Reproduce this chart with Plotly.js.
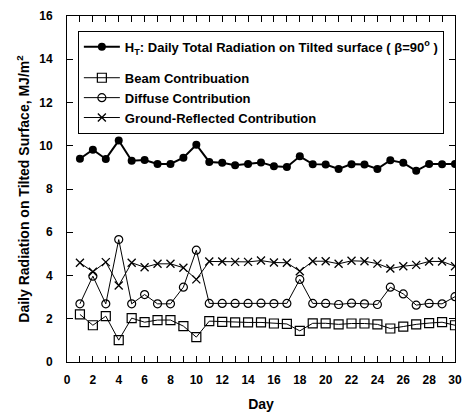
<!DOCTYPE html>
<html>
<head>
<meta charset="utf-8">
<script src="https://cdn.plot.ly/plotly-3.0.1.min.js"></script>
<style>html,body{margin:0;padding:0;background:#fff}#chart{width:462px;height:412px}</style>
</head>
<body>
<div id="chart"></div>
<script>
var days = [1,2,3,4,5,6,7,8,9,10,11,12,13,14,15,16,17,18,19,20,21,22,23,24,25,26,27,28,29,30];
var totalHT = [9.40,9.82,9.39,10.24,9.31,9.34,9.16,9.16,9.45,10.05,9.25,9.21,9.10,9.16,9.23,9.05,9.02,9.51,9.15,9.13,8.93,9.15,9.13,8.93,9.33,9.21,8.84,9.16,9.15,9.16];
var beam = [2.20,1.70,2.12,1.01,2.03,1.84,1.94,1.94,1.66,1.15,1.89,1.86,1.83,1.83,1.83,1.78,1.76,1.44,1.79,1.79,1.74,1.78,1.78,1.74,1.55,1.64,1.74,1.80,1.84,1.70];
var diffuse = [2.69,3.97,2.69,5.66,2.69,3.12,2.69,2.69,3.46,5.17,2.71,2.71,2.71,2.71,2.72,2.70,2.71,3.82,2.71,2.71,2.66,2.72,2.69,2.66,3.46,3.15,2.63,2.71,2.69,3.02];
var ground = [4.59,4.17,4.62,3.54,4.59,4.38,4.54,4.54,4.36,3.82,4.65,4.65,4.63,4.63,4.69,4.60,4.59,4.20,4.66,4.66,4.54,4.68,4.66,4.55,4.32,4.43,4.49,4.65,4.65,4.43];
var seriesNames = [
  "H<sub>T</sub>: Daily Total Radiation on Tilted surface ( <b>β</b>=90<sup>o</sup> )",
  "Beam Contribuation",
  "Diffuse Contribution",
  "Ground-Reflected Contribution"
];
var xTickVals = [0].concat(days);
var xTickText = xTickVals.map(function(d){return d%2===0?String(d):"";});
var yTickVals = [0,2,4,6,8,10,12,14,16];

var traces = [
  {x: days, y: totalHT, name: seriesNames[0], mode: "lines+markers", legendgroup: "total",
   line: {color: "#000", width: 2}, marker: {symbol: "circle", size: 8, color: "#000"}},
  {x: days, y: beam, name: seriesNames[1], mode: "lines+markers", legendgroup: "parts",
   line: {color: "#000", width: 1}, marker: {symbol: "square-open", size: 9, color: "#000", line: {width: 1.2}}},
  {x: days, y: diffuse, name: seriesNames[2], mode: "lines+markers", legendgroup: "parts",
   line: {color: "#000", width: 1}, marker: {symbol: "circle-open", size: 8, color: "#000", line: {width: 1.2}}},
  {x: days, y: ground, name: seriesNames[3], mode: "lines+markers", legendgroup: "parts",
   line: {color: "#000", width: 1}, marker: {symbol: "x-thin-open", size: 8, color: "#000", line: {width: 1.3}}}
];

var fontFam = "Liberation Sans, Arial, sans-serif";
var layout = {
  width: 462, height: 412,
  margin: {l: 67, r: 7, t: 16, b: 50},
  paper_bgcolor: "#fff", plot_bgcolor: "#fff",
  font: {family: fontFam, color: "#000", size: 12},
  showlegend: true,
  legend: {x: 0.028, y: 0.957, xanchor: "left", yanchor: "top",
           bordercolor: "#000", borderwidth: 1, bgcolor: "#fff",
           font: {family: fontFam, size: 13, weight: "bold", color: "#000"},
           itemwidth: 36, tracegroupgap: 11, traceorder: "grouped"},
  xaxis: {range: [0, 30], showline: true, mirror: "ticks", linecolor: "#000", linewidth: 1,
          ticks: "inside", ticklen: 6, tickcolor: "#000",
          tickmode: "array", tickvals: xTickVals, ticktext: xTickText,
          showgrid: false, zeroline: false, ticklabelstandoff: 7,
          tickfont: {family: fontFam, size: 12, weight: "bold"},
          title: {text: "<b>Day</b>", font: {family: fontFam, size: 14}, standoff: 16}},
  yaxis: {range: [0, 16], showline: true, mirror: "ticks", linecolor: "#000", linewidth: 1,
          ticks: "inside", ticklen: 6, tickcolor: "#000", tickmode: "array", tickvals: yTickVals,
          showgrid: false, zeroline: false, ticklabelstandoff: 11, ticksuffix: "\u2002",
          tickfont: {family: fontFam, size: 12, weight: "bold"},
          title: {text: "<b>Daily Radiation on Tilted Surface, MJ/m<sup>2</sup></b>", font: {family: fontFam, size: 14}, standoff: 6}}
};
Plotly.newPlot("chart", traces, layout, {displayModeBar: false, staticPlot: true});
</script>
</body>
</html>
